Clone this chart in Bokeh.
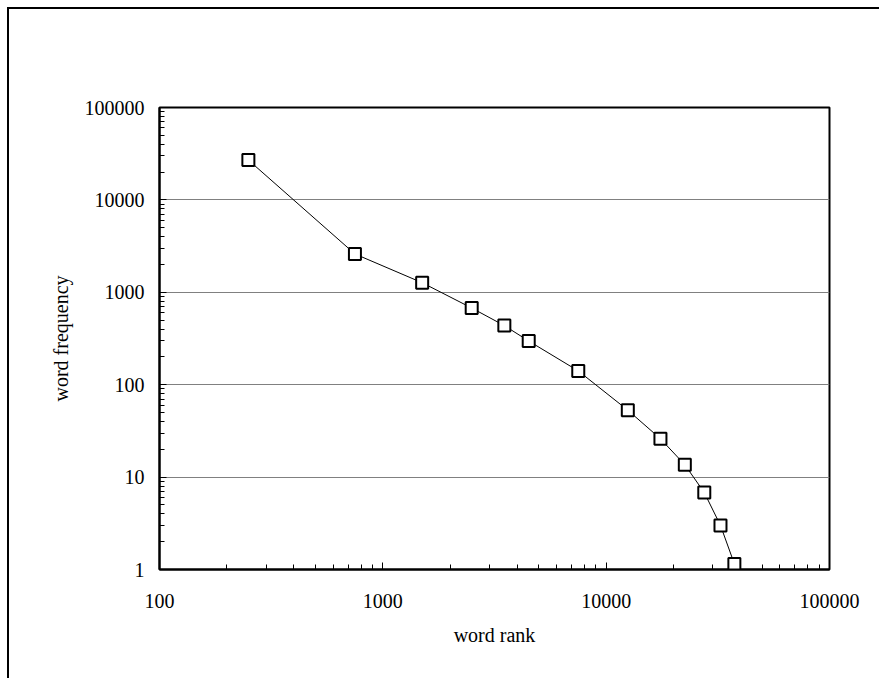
from bokeh.plotting import figure
from bokeh.models import Range1d, FixedTicker, NumeralTickFormatter
from bokeh.embed import file_html
from bokeh.resources import INLINE

# data
word_rank = [250, 750, 1500, 2500, 3500, 4500, 7500, 12500, 17500, 22500, 27500, 32500, 37500]
word_freq = [27000, 2600, 1270, 676, 436, 297, 141, 53, 26, 13.6, 6.8, 3.0, 1.15]

x_major = [100, 1000, 10000, 100000]
y_major = [1, 10, 100, 1000, 10000, 100000]

def minors(majors):
    out = []
    for m in majors[:-1]:
        out += [m * k for k in range(2, 10)]
    return out

FONT = "Liberation Serif"

W, H = 879, 678
p = figure(width=W, height=H, x_axis_type="log", y_axis_type="log",
           x_range=Range1d(100, 100000), y_range=Range1d(1, 100000),
           output_backend="svg", toolbar_location=None,
           min_border_left=159, min_border_top=107, min_border_right=W - 829,
           min_border_bottom=H - 569)

# outer chart-area border on left and top (runs off right/bottom edges),
# drawn behind a transparent canvas border area
p.styles = {
    "background": ("linear-gradient(#000,#000) 7px 7px / 2px calc(100% - 7px) no-repeat, "
                   "linear-gradient(#000,#000) 7px 7px / calc(100% - 7px) 2px no-repeat, #fff"),
}

p.background_fill_color = "white"
p.border_fill_color = None
p.outline_line_color = "black"
p.outline_line_width = 2

p.xgrid.visible = False
p.ygrid.grid_line_color = "#808080"
p.ygrid.grid_line_width = 1

p.xaxis.ticker = FixedTicker(ticks=x_major, minor_ticks=minors(x_major))
p.yaxis.ticker = FixedTicker(ticks=y_major, minor_ticks=minors(y_major))
p.xaxis.formatter = NumeralTickFormatter(format="0")
p.yaxis.formatter = NumeralTickFormatter(format="0")

for ax in (p.xaxis, p.yaxis):
    ax.axis_line_width = 2
    ax.axis_line_color = "black"
    ax.major_tick_in = 7
    ax.major_tick_out = 0
    ax.minor_tick_in = 5
    ax.minor_tick_out = 0
    ax.major_tick_line_color = "black"
    ax.minor_tick_line_color = "black"
    ax.major_label_text_font = FONT
    ax.major_label_text_font_size = "20px"
    ax.major_label_text_color = "black"
    ax.axis_label_text_font = FONT
    ax.axis_label_text_font_size = "20px"
    ax.axis_label_text_font_style = "normal"
    ax.axis_label_text_color = "black"

p.xaxis.axis_label = "word rank"
p.yaxis.axis_label = "word frequency"
p.xaxis.major_label_standoff = 24
p.xaxis.axis_label_standoff = 13
p.yaxis.major_label_standoff = 15
p.yaxis.axis_label_standoff = 10

p.line(word_rank, word_freq, line_color="black", line_width=1)
p.scatter(word_rank, word_freq, marker="square", size=12,
          fill_color="white", line_color="black", line_width=2)

open("out.html", "w").write(file_html(p, INLINE))
